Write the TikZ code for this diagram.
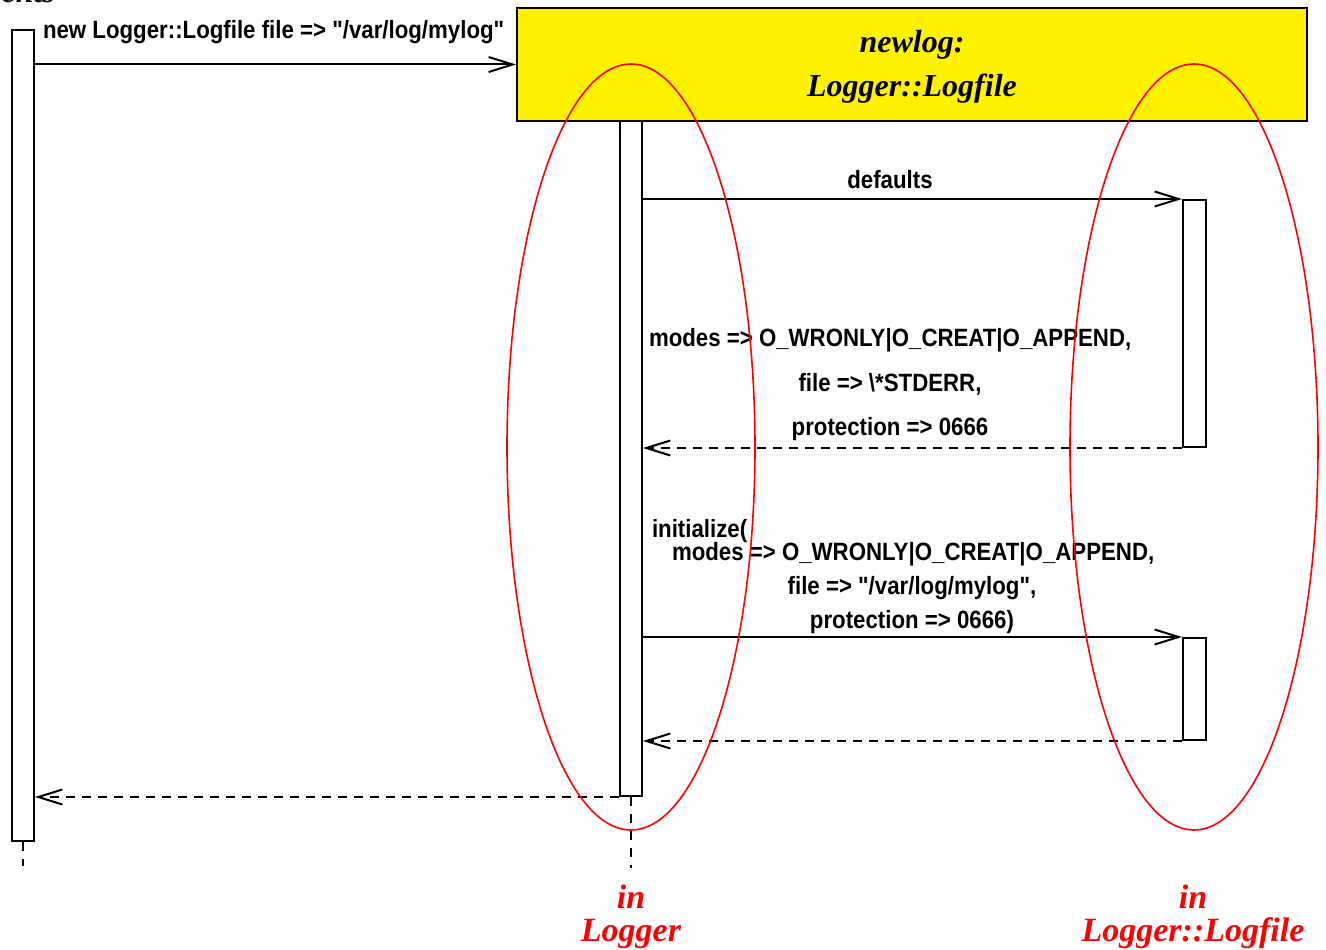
\documentclass[tikz,border=0pt]{standalone}
\usepackage{fontspec}
\setmainfont{Liberation Serif}
\newfontfamily\msgfont{Liberation Sans}[FakeStretch=0.89]
\usetikzlibrary{arrows.meta,shapes.geometric}

\tikzset{
  actbar/.style={draw, fill=white, inner sep=0pt, minimum width=22pt},
  objbox/.style={draw, fill=yellow, inner sep=0pt, minimum width=790pt, minimum height=113pt},
  region/.style={draw=red, ellipse, inner sep=0pt, line width=1.6pt,
                 minimum width=248pt, minimum height=766pt},
  msg/.style={-{Straight Barb[length=24pt,width=15pt]}},
  ret/.style={msg, dash pattern=on 9pt off 7pt},
  lifeline/.style={dash pattern=on 9pt off 8pt},
  lbl/.style={font=\msgfont\bfseries\fontsize{25}{29}\selectfont, inner sep=0pt, anchor=base},
  title/.style={font=\bfseries\itshape\fontsize{32}{38}\selectfont, inner sep=0pt, anchor=base},
  where/.style={title, text=red, font=\bfseries\itshape\fontsize{34}{40}\selectfont},
}

\begin{document}
\begin{tikzpicture}[x=1pt, y=-1pt, line width=2pt]
\useasboundingbox (0,0) rectangle (1326,950);

% caller, partly above the page edge
\node[title, anchor=base east] (caller) at (56,3) {clients};

% object box
\node[objbox] (obj) at (912,64.5) {};
\node[title] (objname) at (912,53) {newlog:};
\node[title] (objclass) at (912,96) {Logger::Logfile};

% activation bars
\node[actbar, minimum height=811pt] (cbar) at (23,435.5) {};
\node[actbar, minimum height=675pt] (lbar) at (631,458.5) {};
\node[actbar, minimum width=23pt, minimum height=247pt] (fb1) at (1194.5,323.5) {};
\node[actbar, minimum width=23pt, minimum height=102pt] (fb2) at (1194.5,689) {};

% lifeline stubs
\coordinate (cend) at (23,866);
\coordinate (lend) at (631,868);
\draw[lifeline] (cbar.south) -- (cend);
\draw[lifeline] (lbar.south) -- (lend);

% messages
\draw[msg] (cbar.east |- obj.west) -- (obj.west);
\node[lbl, anchor=base west] (newmsg) at (42,39) {new Logger::Logfile file => "/var/log/mylog"};

\draw[msg] (lbar.east |- fb1.north) -- (fb1.north west);
\node[lbl] (defl) at (890,188) {defaults};

\draw[ret] (fb1.south west) -- (lbar.east |- fb1.south);
\node[lbl, anchor=base west] (dm) at (648,346) {modes => O\_WRONLY|O\_CREAT|O\_APPEND,};
\node[lbl] (df) at (890,391) {file => \textbackslash*STDERR,};
\node[lbl] (dp) at (890,435) {protection => 0666};

\draw[msg] (lbar.east |- fb2.north) -- (fb2.north west);
\node[lbl, anchor=base west] (ii) at (651,537) {initialize(};
\node[lbl, anchor=base west] (im) at (671,560) {modes => O\_WRONLY|O\_CREAT|O\_APPEND,};
\node[lbl] (iff) at (912,594) {file => "/var/log/mylog",};
\node[lbl] (ip) at (912,628) {protection => 0666)};

\draw[ret] (fb2.south west) -- (lbar.east |- fb2.south);
\draw[ret] (lbar.south west) -- (cbar.east |- lbar.south);

% package regions
\node[region] (rlogger) at (631,447) {};
\node[region] (rlogfile) at (1194,447) {};
\node[where] (in1) at (631,908) {in};
\node[where] (pk1) at (631,941) {Logger};
\node[where] (in2) at (1193,908) {in};
\node[where] (pk2) at (1193,941) {Logger::Logfile};
\end{tikzpicture}
\end{document}
